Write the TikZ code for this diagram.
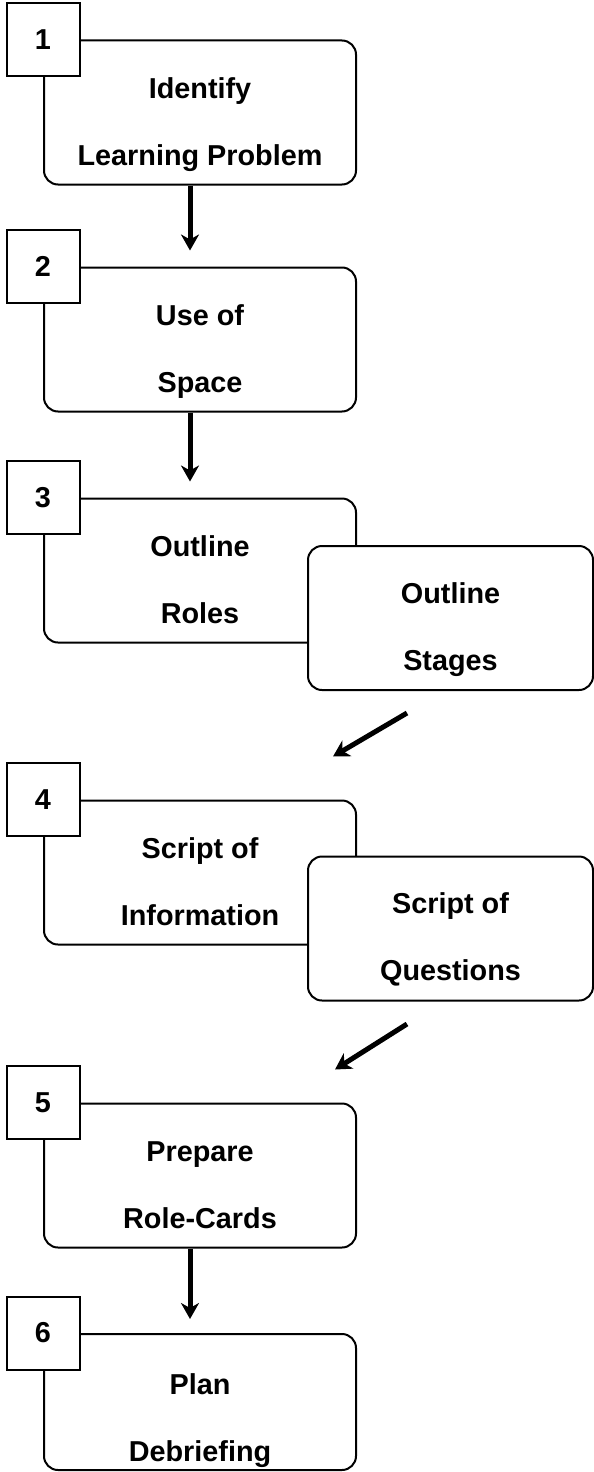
\documentclass[tikz,border=0pt]{standalone}
\usepackage{fontspec}
\setmainfont{Liberation Sans}
\usetikzlibrary{positioning,arrows.meta}

\begin{document}
\begin{tikzpicture}[x=1pt,y=-1pt,
        stepbox/.style={draw,line width=2pt,rounded corners=14pt,fill=white,
          minimum width=312pt,minimum height=144pt},
        sidebox/.style={stepbox,minimum width=285pt},
        numbox/.style={draw,line width=2pt,fill=white,minimum size=73pt,inner sep=0pt,
          font=\bfseries\fontsize{28.8}{30}\selectfont},
        steptext/.style={anchor=base,align=center,font=\bfseries\fontsize{28.8}{67}\selectfont},
        flow/.style={line width=5pt,-{Stealth[length=16pt,width=18pt,inset=5pt]}}]
        \useasboundingbox[fill=white] (0,0) rectangle (594,1472);
        \node[stepbox] (b1) at (200,112.5) {};
        \node[stepbox] (b2) at (200,339.5) {};
        \node[stepbox] (b3) at (200,570.5) {};
        \node[sidebox] (s3) at (450.5,618) {};
        \node[stepbox] (b4) at (200,872.5) {};
        \node[sidebox] (q4) at (450.5,928.5) {};
        \node[stepbox] (b5) at (200,1175.5) {};
        \node[stepbox,minimum height=136pt] (b6) at (200,1402) {};
          \node[steptext] (t1) at ([yshift=-126pt]b1.north) {Identify\\Learning Problem};
          \node[steptext] (t2) at ([yshift=-126pt]b2.north) {Use of\\Space};
          \node[steptext] (t3) at ([yshift=-126pt]b3.north) {Outline\\Roles};
          \node[steptext] (u3) at ([yshift=-125pt]s3.north) {Outline\\Stages};
          \node[steptext] (t4) at ([yshift=-126pt]b4.north) {Script of\\Information};
          \node[steptext] (u4) at ([yshift=-125pt]q4.north) {Script of\\Questions};
          \node[steptext] (t5) at ([yshift=-126pt]b5.north) {Prepare\\Role-Cards};
          \node[steptext] (t6) at ([yshift=-128pt]b6.north) {Plan\\Debriefing};
        \node[numbox] (n1) at (b1.north west) {1};
        \node[numbox] (n2) at (b2.north west) {2};
        \node[numbox] (n3) at (b3.north west) {3};
        \node[numbox] (n4) at (b4.north west) {4};
        \node[numbox] (n5) at (b5.north west) {5};
        \node[numbox] (n6) at (b6.north west) {6};
          \draw[flow] ([xshift=-10pt]b1.south) -- ([xshift=-10pt,yshift=16pt]b2.north);
          \draw[flow] ([xshift=-10pt]b2.south) -- ([xshift=-10pt,yshift=16pt]b3.north);
          \draw[flow] ([xshift=-43.5pt,yshift=-22pt]s3.south) -- ([xshift=133pt,yshift=43pt]b4.north);
          \draw[flow] ([xshift=-43.5pt,yshift=-22.5pt]q4.south) -- ([xshift=135pt,yshift=33pt]b5.north);
          \draw[flow] ([xshift=-10pt]b5.south) -- ([xshift=-10pt,yshift=14pt]b6.north);
\end{tikzpicture}
\end{document}
